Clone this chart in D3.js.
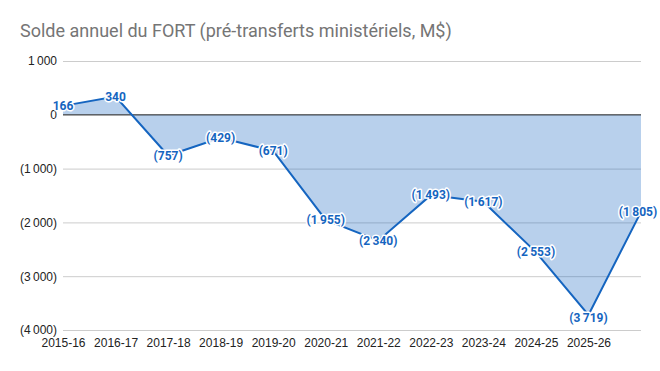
<!DOCTYPE html>
<html>
<head>
<meta charset="utf-8">
<script src="https://cdn.jsdelivr.net/npm/d3@7"></script>
<style>
  body { margin: 0; background: #fff; }
  svg { display: block; font-family: Roboto, "Noto Sans", sans-serif; }
</style>
</head>
<body>
<div id="chart"></div>
<script>
// Fiscal years (the last one has no visible tick label in the source)
const years = ['2015-16', '2016-17', '2017-18', '2018-19', '2019-20', '2020-21',
  '2021-22', '2022-23', '2023-24', '2024-25', '2025-26', '2026-27'];
const soldes = [166, 340, -757, -429, -671, -1955, -2340, -1493, -1617, -2553, -3719, -1805];
const yTicks = [1000, 0, -1000, -2000, -3000, -4000];
const shownYears = years.slice(0, 11);

const W = 660;
const H = 371;
const margin = { top: 61, right: 19, bottom: 41, left: 63 };
const blue = '#1565c0';

const data = years.map((y, i) => ({ year: y, value: soldes[i] }));

const svg = d3.select('#chart')
  .append('svg')
  .attr('width', W)
  .attr('height', H);

// title
svg.append('text')
  .attr('x', 20)
  .attr('y', 37)
  .style('font-size', '18px')
  .style('fill', '#757575')
  .text('Solde annuel du FORT (pré-transferts ministériels, M$)');

const x = d3.scalePoint()
  .domain(years)
  .range([margin.left, W - margin.right]);

const y = d3.scaleLinear()
  .domain([-4000, 1000])
  .range([H - margin.bottom, margin.top]);

// 1 000 / (1 000) style numbers with a thin space as separator
const fmt = (v) => {
  const s = d3.format(',')(Math.abs(v)).replace(/,/g, '\u2009');
  return v < 0 ? `(${s})` : s;
};

// gridlines + y labels
const yAxis = svg.append('g')
  .attr('transform', `translate(${margin.left},0)`)
  .call(d3.axisLeft(y).tickValues(yTicks).tickSize(-(W - margin.left - margin.right))
    .tickPadding(6).tickFormat(fmt))
  .call((g) => g.select('.domain').remove());
yAxis.selectAll('.tick line').attr('stroke', '#cccccc');
yAxis.selectAll('.tick text')
  .style('font-size', '12px')
  .style('fill', '#222');

// area between line and zero
const area = d3.area()
  .x((d) => x(d.year))
  .y0(y(0))
  .y1((d) => y(d.value));

svg.append('path')
  .datum(data)
  .attr('d', area)
  .attr('fill', blue)
  .attr('fill-opacity', 0.3);

// zero baseline
svg.append('line')
  .attr('x1', margin.left)
  .attr('x2', W - margin.right)
  .attr('y1', y(0))
  .attr('y2', y(0))
  .attr('stroke', '#333')
  .attr('stroke-width', 1);

const line = d3.line()
  .x((d) => x(d.year))
  .y((d) => y(d.value));

svg.append('path')
  .datum(data)
  .attr('d', line)
  .attr('fill', 'none')
  .attr('stroke', blue)
  .attr('stroke-width', 2);

// x labels
const xAxis = svg.append('g')
  .attr('transform', `translate(0,${H - margin.bottom})`)
  .call(d3.axisBottom(x).tickValues(shownYears).tickSize(0).tickPadding(8))
  .call((g) => g.select('.domain').remove());
xAxis.selectAll('.tick text')
  .style('font-size', '12px')
  .style('fill', '#222');

// value labels, centered on the points with a white halo
svg.append('g')
  .selectAll('text')
  .data(data)
  .join('text')
  .attr('x', (d) => Math.min(x(d.year), W - 22))
  .attr('y', (d) => y(d.value) + (d.value === -3719 ? 3 : 0))
  .attr('dy', '0.35em')
  .attr('text-anchor', 'middle')
  .style('font-size', '12px')
  .style('font-weight', 'bold')
  .style('fill', blue)
  .style('stroke', '#fff')
  .style('stroke-width', 3)
  .style('stroke-linejoin', 'round')
  .style('paint-order', 'stroke')
  .text((d) => fmt(d.value));
</script>
</body>
</html>
